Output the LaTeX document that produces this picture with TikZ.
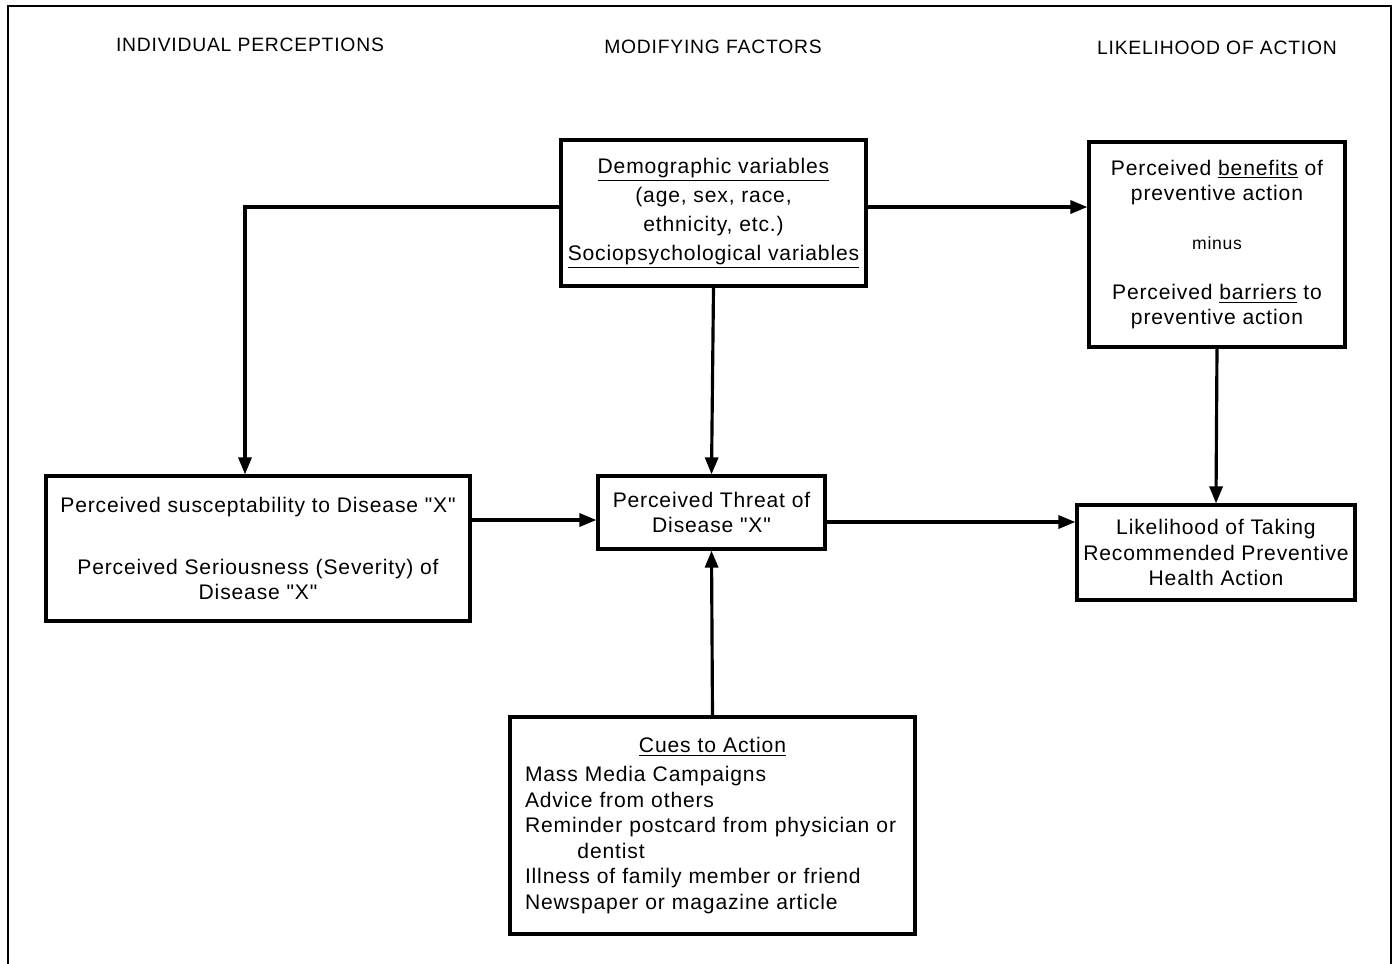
\documentclass[tikz,border=0pt]{standalone}
\usepackage{fontspec}
\setmainfont{Liberation Sans}[LetterSpace=4, Ligatures=TeXOff]
\usetikzlibrary{arrows.meta,positioning,calc}

\begin{document}
\begin{tikzpicture}[
    x=0.02cm, y=-0.02cm,
    % Define styles
    box/.style={rectangle, draw, line width=1.8pt, align=center, inner sep=0pt, font=\fontsize{12}{14.5}\selectfont},
    heading/.style={font=\fontsize{11}{13}\selectfont},
    arrow/.style={-{Triangle[length=0.34cm, width=0.26cm]}, line width=1.8pt},
    frame/.style={line width=1.5pt}
]
\useasboundingbox (0,0) rectangle (1397,964);

% Outer frame (open at the bottom)
\draw[frame] (8,964) -- (8,6) -- (1391,6) -- (1391,964);

% Column headings
\node[heading] (hind) at (250,45) {INDIVIDUAL PERCEPTIONS};
\node[heading] (hmod) at (713,47) {MODIFYING FACTORS};
\node[heading] (hlik) at (1217,48) {LIKELIHOOD OF ACTION};

% Modifying factors
\node[box, minimum width=305*0.02cm, minimum height=146*0.02cm, font=\fontsize{12}{16.5}\selectfont] (demo) at (713.5,213)
    {\underline{Demographic variables}\\(age, sex, race,\\ethnicity, etc.)\\\underline{Sociopsychological variables}};
\node[box, minimum width=227*0.02cm, minimum height=73*0.02cm] (threat) at (711.5,512.5)
    {Perceived Threat of\\Disease "X"};
\node[box, minimum width=405*0.02cm, minimum height=217*0.02cm, text width=375*0.02cm, align=left] (cues) at (712.5,825.5)
    {\makebox[\linewidth][c]{\underline{Cues to Action}}\\[2pt]
     Mass Media Campaigns\\
     Advice from others\\
     Reminder postcard from physician or\\
     \hspace*{1.05cm}dentist\\
     Illness of family member or friend\\
     Newspaper or magazine article\\[6pt]};

% Individual perceptions
\node[box, minimum width=424*0.02cm, minimum height=145*0.02cm] (susc) at (258,548.5)
    {Perceived susceptability to Disease "X"\\[0.72cm]Perceived Seriousness (Severity) of\\Disease "X"};

% Likelihood of action
\node[box, minimum width=256*0.02cm, minimum height=205*0.02cm] (benefit) at (1217,244.5)
    {Perceived \underline{benefits} of\\preventive action\\[0.48cm]{\fontsize{10}{12}\selectfont minus}\\[0.48cm]Perceived \underline{barriers} to\\preventive action};
\node[box, minimum width=278*0.02cm, minimum height=95*0.02cm] (likely) at (1216,552.5)
    {Likelihood of Taking\\Recommended Preventive\\Health Action};

% Connection points
\coordinate (dl) at ([yshift=0.12cm]demo.west);
\coordinate (dr) at ([yshift=0.12cm]demo.east);
\coordinate (tl) at ([yshift=-0.15cm]threat.west);
\coordinate (tr) at ([yshift=-0.19cm]threat.east);

% Connections
\draw[arrow] (dl) -| ([xshift=-0.26cm]susc.north);
\draw[arrow] (demo.south) -- (threat.north);
\draw[arrow] (dr) -- (dr -| benefit.west);
\draw[arrow] (benefit.south) -- (likely.north);
\draw[arrow] (tl -| susc.east) -- (tl);
\draw[arrow] (tr) -- (tr -| likely.west);
\draw[arrow] (cues.north) -- (threat.south);

\end{tikzpicture}
\end{document}
